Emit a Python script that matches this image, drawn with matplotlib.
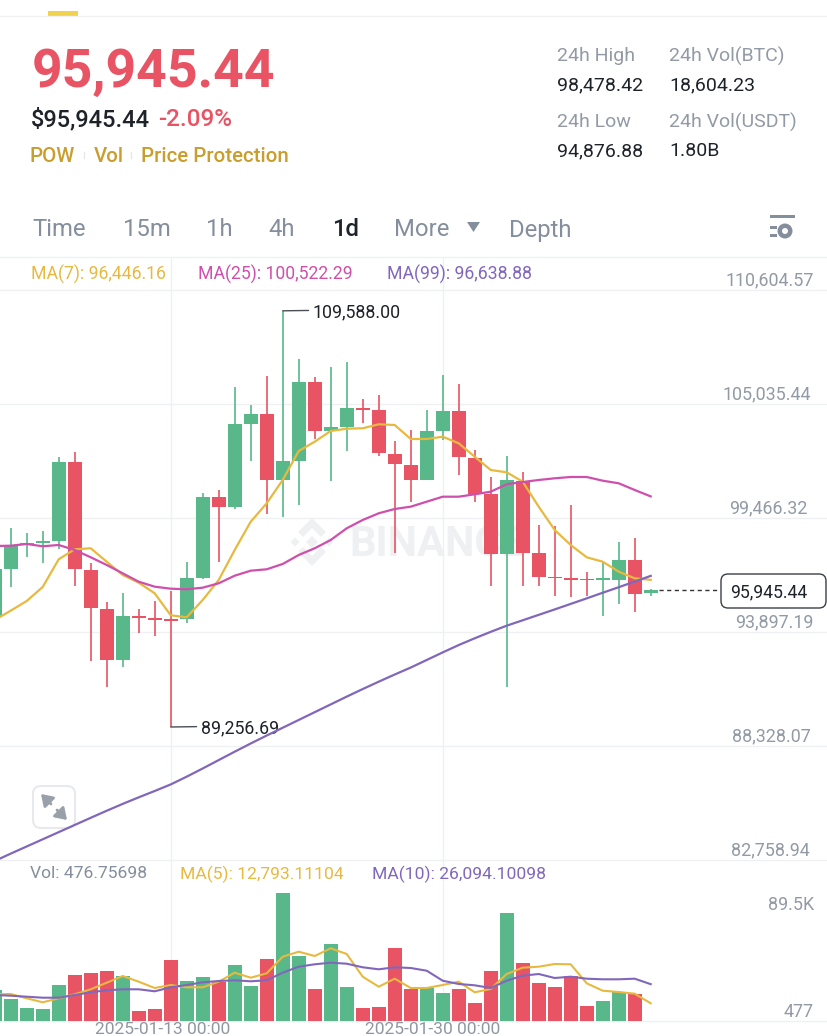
import matplotlib
matplotlib.use("Agg")
import matplotlib.pyplot as plt
from matplotlib.patches import FancyBboxPatch, Polygon, Rectangle, Circle
import numpy as np

plt.rcParams['font.family'] = ['Roboto', 'DejaVu Sans']

#-------------------------------------------------------------------------------
# data, one entry per daily candle

opens = [94630, 96975, 98148, 98221, 98358, 102217, 96926, 95036, 92530, 94679, 94567, 94513, 94513, 96536,
         100478, 99989, 104059, 104547, 101323, 102251, 106125, 103717, 103927, 104855, 104743, 102593, 102056,
         101338, 103732, 104709, 102412, 100624, 97694, 101289, 97742, 96584, 96521, 96487, 96438, 96438, 97415, 95788]
highs = [98148, 98978, 98749, 98832, 102461, 102706, 97254, 95348, 95788, 95006, 95427, 95901, 97332, 100673,
         100835, 105852, 104987, 106404, 109588.00, 107220, 106370, 106829, 107102, 105265, 105476, 103243, 103766,
         104743, 106453, 105998, 102789, 101455, 102496, 101699, 99125, 99091, 100102, 96843, 97332, 98309, 98478.42, 95984]
lows = [94484, 96096, 97547, 97268, 97952, 96145, 92481, 91196, 92202, 93834, 93702, 89256.69, 94323, 96501,
        97332, 99921, 102266, 99647, 99530, 100102, 103326, 101289, 102754, 104122, 102510, 97772, 100263,
        101338, 103277, 101567, 100263, 96145, 91225, 96145, 96145, 95671, 95622, 95671, 94694, 95251, 94876.88, 95656]
closes = [96975, 98113, 98245, 98319, 102217, 96961, 95055, 92530, 94694, 94596, 94498, 94435, 96536, 100478,
          99989, 104059, 104547, 101323, 102251, 106125, 103717, 103898, 104855, 104743, 102627, 102090, 101338,
          103717, 104709, 102432, 100624, 97694, 101323, 97757, 96599, 96521, 96453, 96423, 96521, 97415, 95769, 95945.44]

ma7 = [94484, 94938, 95412, 96096, 97449, 97938, 97987, 97332, 96682, 96306, 95788, 94713, 94616, 95461,
       96438, 97903, 99286, 100185, 101323, 102740, 103194, 103717, 103829, 103849, 104044, 104010, 103326,
       103326, 103438, 103116, 102461, 101812, 101699, 101240, 100019, 98881, 98148, 97547, 97332, 96843, 96521, 96446.16]
ma25 = [98099, 98113, 98197, 98084, 98148, 97903, 97547, 97171, 96765, 96355, 96111, 96013, 95984, 96062,
        96277, 96648, 96892, 96961, 97220, 97659, 97987, 98392, 98963, 99369, 99696, 99906, 100019,
        100263, 100507, 100507, 100624, 100751, 101113, 101225, 101323, 101406, 101470, 101470, 101289, 101162, 100835, 100522.29]
ma99 = [82711, 83070, 83420, 83770, 84120, 84470, 84820, 85165, 85500, 85820, 86130, 86450, 86830, 87230,
        87640, 88050, 88450, 88840, 89220, 89600, 89980, 90360, 90740, 91110, 91470, 91820, 92160,
        92530, 92900, 93260, 93590, 93905, 94206, 94470, 94735, 95000, 95270, 95540, 95815, 96085, 96360, 96638.88]

volumes = [22246, 15778, 9518, 8614, 25515, 32470, 34070, 35043, 31566, 7432, 9032, 42902, 28297, 30870,
           27810, 39425, 24819, 43598, 89500, 45893, 22733, 54030, 24124, 9518, 10214, 51039, 22524,
           23220, 19742, 22524, 12787, 35043, 75382, 40607, 26697, 23915, 31774, 10701, 14387, 20855, 19047, 476.75698]
vol_ma5 = [19047, 19256, 16265, 13483, 16265, 19047, 22524, 27115, 31774, 27810, 23429, 25515, 23915, 23915,
           27810, 34070, 30592, 33652, 45198, 48675, 45685, 51039, 47075, 31288, 24333, 29897, 23429,
           23429, 25515, 27810, 20438, 22733, 33166, 37547, 38243, 40121, 39912, 26697, 21551, 20647, 19464, 12793.11104]
vol_ma10 = [18560, 18073, 17378, 16682, 16682, 18560, 20438, 21829, 22524, 22524, 21133, 23915, 25515, 27393,
            28297, 28784, 28088, 28784, 34070, 38243, 39912, 41025, 40329, 37825, 36434, 37825, 37339,
            35461, 28506, 26211, 25306, 23429, 28506, 31983, 33166, 30384, 31288, 29897, 29479, 29479, 29897, 26094.10098]

price_ticks = [110604.57, 105035.44, 99466.32, 93897.19, 88328.07, 82758.94]
vol_ticks = [89500, 477]
vol_tick_labels = ['89.5K', '477']
date_labels = ['2025-01-13 00:00', '2025-01-30 00:00']
date_days = [10, 27]

GREEN = '#58b88a'
RED = '#e85464'
YELLOW = '#e7b93f'
PINK = '#cf4fac'
PURPLE = '#8167bc'
GRID = '#eef0f2'
GRAY = '#929aa5'
DARK = '#1e2329'
GOLD = '#c99e2e'

W, H = 828, 1036

fig = plt.figure(figsize=(W / 100, H / 100), dpi=100, facecolor='white')


def px_axes(top, bottom, zorder):
    ax = fig.add_axes([0, 1 - bottom / H, 1, (bottom - top) / H], zorder=zorder)
    ax.patch.set_visible(False)
    ax.axis('off')
    return ax


#-------------------------------------------------------------------------------
# page furniture, in pixel coordinates

page = px_axes(0, H, 0)
page.set_xlim(0, W)
page.set_ylim(H, 0)

page.add_patch(Rectangle((48, 11), 30, 5, color='#f0d24e', lw=0))
for y in [16, 257, 290, 404, 518, 632, 746, 860, 1021]:
    page.plot([0, W], [y, y], color=GRID, lw=1)

page.text(32, 72, '95,945.44', color=RED, fontsize=38.5, fontweight='bold', va='center')
page.text(31, 119.5, '$95,945.44', color=DARK, fontsize=17, fontweight='medium', va='center')
page.text(158, 119.5, '-2.09%', color=RED, fontsize=17.5, fontweight='medium', va='center')
page.text(30, 157, 'POW', color=GOLD, fontsize=14.8, fontweight='medium', va='center')
page.text(94, 157, 'Vol', color=GOLD, fontsize=14.8, fontweight='medium', va='center')
page.text(141, 157, 'Price Protection', color=GOLD, fontsize=14.8, fontweight='medium', va='center')
for x in [84, 131]:
    page.plot([x, x], [152, 158], color='#e6e8ea', lw=1)

for x, y, name, value in [(557, 56, '24h High', '98,478.42'), (669, 56, '24h Vol(BTC)', '18,604.23'),
                          (557, 122, '24h Low', '94,876.88'), (669, 122, '24h Vol(USDT)', '1.80B')]:
    page.text(x, y, name, color=GRAY, fontsize=14, va='center')
    page.text(x, y + 29, value, color=DARK, fontsize=14, va='center')

for x, name in [(32, 'Time'), (123, '15m'), (206, '1h'), (268, '4h'), (394, 'More'), (509, 'Depth')]:
    page.text(x, 230, name, color='#848e9c', fontsize=17.2, va='center')
page.text(332, 230, '1d', color=DARK, fontsize=17.2, fontweight='medium', va='center')
page.add_patch(Polygon([(467, 222), (480, 222), (473.5, 232)], color='#848e9c', lw=0))

# settings icon
page.add_patch(Rectangle((770, 215), 25, 3, color='#858e9c', lw=0))
page.add_patch(Rectangle((770, 226), 7, 3, color='#858e9c', lw=0))
page.add_patch(Rectangle((770, 234), 7, 3, color='#858e9c', lw=0))
page.add_patch(Circle((785, 231), 7.5, color='#858e9c', lw=0))
page.add_patch(Circle((785, 231), 3, color='white', lw=0))

page.text(31, 274, 'MA(7): 96,446.16', color=YELLOW, fontsize=12.7, va='center')
page.text(198, 274, 'MA(25): 100,522.29', color=PINK, fontsize=12.7, va='center')
page.text(387, 274, 'MA(99): 96,638.88', color=PURPLE, fontsize=12.7, va='center')

page.text(30, 874, 'Vol: 476.75698', color='#848e9c', fontsize=12.6, va='center')
page.text(180, 874, 'MA(5): 12,793.11104', color=YELLOW, fontsize=12.6, va='center')
page.text(372, 874, 'MA(10): 26,094.10098', color=PURPLE, fontsize=12.6, va='center')

# watermark
wm = '#eff0f2'
cx, cy = 312, 542
page.add_patch(Polygon([(cx, cy - 24), (cx + 14, cy - 10), (cx + 9, cy - 5), (cx, cy - 14), (cx - 9, cy - 5), (cx - 14, cy - 10)], color=wm, lw=0))
page.add_patch(Polygon([(cx, cy + 24), (cx + 14, cy + 10), (cx + 9, cy + 5), (cx, cy + 14), (cx - 9, cy + 5), (cx - 14, cy + 10)], color=wm, lw=0))
for dx, r in [(0, 6), (-17, 4.5), (17, 4.5)]:
    page.add_patch(Polygon([(cx + dx, cy - r), (cx + dx + r, cy), (cx + dx, cy + r), (cx + dx - r, cy)], color=wm, lw=0))
page.text(349, 544, 'BINANCE', color=wm, fontsize=30, fontweight='bold', va='center')

# expand button
page.add_patch(FancyBboxPatch((38, 791), 32, 32, boxstyle='round,pad=5,rounding_size=8', fc='white', ec='#e8e9ec', lw=1.5))
for tail, tip in [((51, 804), (41, 794)), ((57, 810), (67, 820))]:
    page.annotate('', xy=tip, xytext=tail, arrowprops=dict(arrowstyle='-|>,head_width=0.4,head_length=0.6', color='#9aa0aa', lw=2, shrinkA=0, shrinkB=0, mutation_scale=11))

# last price box
page.add_patch(FancyBboxPatch((725, 578), 97, 26, boxstyle='round,pad=4,rounding_size=7', fc='white', ec='#3a3f46', lw=1))
page.text(769, 592.5, '95,945.44', color=DARK, fontsize=12.7, ha='center', va='center')

for x, label in zip([163, 433], date_labels):
    page.text(x, 1029.5, label, color='#8f97a3', fontsize=12.5, ha='center', va='center')

#-------------------------------------------------------------------------------
# candles

days = np.arange(-1, 41)
opens, highs, lows, closes = map(np.array, (opens, highs, lows, closes))
up = closes >= opens
colors = np.where(up, GREEN, RED)
xlim = (-10.7 / 16, (W - 10.7) / 16)

for d in date_days:
    page.plot([10.7 + 16 * d] * 2, [257, 1021], color=GRID, lw=1)

ax = px_axes(290, 860, 2)
ax.set_xlim(xlim)
ax.set_ylim(price_ticks[-1], price_ticks[0])
ax.vlines(days, lows, highs, colors=colors, lw=1.2, zorder=2)
ax.bar(days, np.abs(closes - opens), bottom=np.minimum(opens, closes), width=0.875, color=colors, lw=0, zorder=3)
ax.plot(days, ma7, color=YELLOW, lw=1.6, zorder=4, clip_on=False)
ax.plot(days, ma25, color=PINK, lw=1.6, zorder=4)
ax.plot(days, ma99, color=PURPLE, lw=1.6, zorder=4)

# the tick labels do not share a right edge in the app
tick_right = [814, 811, 808, 814, 811, 810]
for t, right in zip(price_ticks, tick_right):
    ax.annotate(f'{t:,.2f}', xy=(right, t), xycoords=('figure pixels', 'data'), xytext=(0, 7.2), textcoords='offset points',
                color=GRAY, fontsize=12.9, ha='right', va='center', annotation_clip=False)

for day, value, label, dx in [(17, 109588.00, '109,588.00', 30), (10, 89256.69, '89,256.69', 30)]:
    ax.annotate(label, xy=(day, value), xytext=(dx * 0.72, -1), textcoords='offset points', color=DARK, fontsize=12.8, va='center',
                arrowprops=dict(arrowstyle='-', color='#4a4f55', lw=1, shrinkA=1, shrinkB=0, relpos=(0, 0.6)))

ax.hlines(closes[-1], 40.5, 44.25, colors='#333333', lw=1, linestyles=(0, (3, 2.5)), zorder=1)

#-------------------------------------------------------------------------------
# volume panel

vol_top = vol_ticks[1] + 136 * (vol_ticks[0] - vol_ticks[1]) / 128
vax = px_axes(885, 1021, 2)
vax.set_xlim(xlim)
vax.set_ylim(vol_ticks[1], vol_top)
vax.bar(days, np.array(volumes) - vol_ticks[1], bottom=vol_ticks[1], width=0.875, color=colors, lw=0, zorder=2)
vax.plot(days, vol_ma5, color=YELLOW, lw=1.5, zorder=3)
vax.plot(days, vol_ma10, color=PURPLE, lw=1.5, zorder=3)

for y, label in zip([905, 1012], vol_tick_labels):
    page.text(814, y, label, color=GRAY, fontsize=12.9, ha='right', va='center')

fig.savefig('out.png', dpi=100)
plt.close('all')
